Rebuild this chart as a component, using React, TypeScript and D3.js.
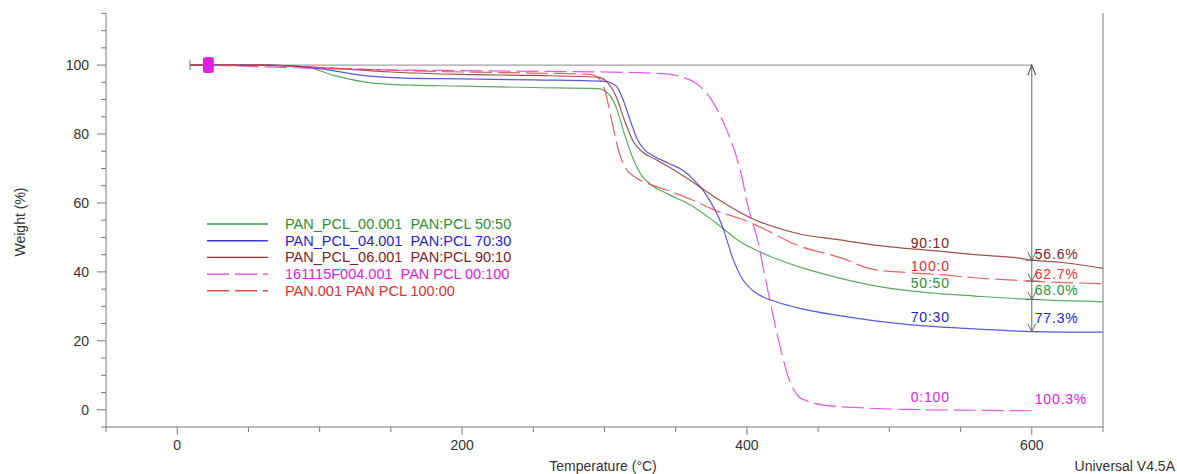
import React from 'react';
import * as d3 from 'd3';

// TGA curves (temperature °C, weight %)
const t5050 = [9, 60, 90, 110, 130, 150, 200, 250, 295, 302, 308, 314, 320, 326, 332, 345, 360, 379, 395, 407, 420, 442, 465, 488, 510, 535, 560, 600, 650];
const w5050 = [100, 100, 99.5, 97, 95.2, 94.4, 93.9, 93.5, 93.2, 92, 88, 80, 73, 68, 65.5, 62.5, 59.5, 54, 48.8, 46.2, 43.9, 40.8, 38.2, 36.1, 34.7, 33.7, 33, 32, 31.3];

const t7030 = [9, 60, 100, 130, 160, 200, 250, 300, 308, 313, 318, 323, 328, 335, 345, 355, 362, 372, 383, 390, 397, 404, 411, 420, 437, 465, 490, 512, 550, 600, 650];
const w7030 = [100, 100, 99, 97, 96.2, 96, 95.7, 95.3, 94, 90, 84, 78.5, 75.5, 73.5, 71.5, 69.5, 67, 62, 53, 44, 37.8, 34.6, 32.8, 31.4, 29.4, 27.3, 25.8, 24.8, 23.7, 22.7, 22.5];

const t9010 = [9, 60, 100, 150, 200, 250, 295, 302, 308, 314, 320, 326, 335, 345, 360, 380, 402, 437, 465, 493, 512, 535, 560, 591, 600, 620, 650];
const w9010 = [100, 100, 99.3, 98, 97.3, 97, 96.5, 95, 91, 84, 78, 75, 72.8, 70.5, 66.6, 61, 55.8, 51, 49.3, 47.6, 46.8, 46, 45, 44, 43.4, 42.8, 41];

const t0100 = [22, 60, 100, 150, 200, 250, 300, 340, 355, 365, 375, 385, 395, 402, 407, 413, 418, 424, 430, 436, 442, 455, 479, 510, 550, 603];
const w0100 = [100, 99.5, 99, 98.6, 98.4, 98.2, 98, 97.5, 96.5, 94.5, 90, 82, 70, 57, 50, 38, 28, 17, 8.4, 4, 2.6, 1.3, 0.6, 0.1, -0.1, -0.3];

const t1000 = [9, 60, 100, 150, 200, 250, 290, 295, 300, 305, 310, 315, 322, 330, 344, 362, 380, 395, 404, 437, 465, 488, 512, 535, 560, 591, 600, 650];
const w1000 = [100, 100, 99.3, 98.5, 98, 97.7, 97.3, 96.5, 93, 84, 75, 70, 67.3, 65.7, 63.7, 60.8, 57.5, 55.5, 54, 47.5, 44.2, 40.8, 39.8, 39.2, 38.3, 37.5, 37.3, 36.6];

const fileNames = ['PAN_PCL_00.001', 'PAN_PCL_04.001', 'PAN_PCL_06.001', '161115F004.001', 'PAN.001'];
const sampleNames = ['PAN:PCL 50:50', 'PAN:PCL 70:30', 'PAN:PCL 90:10', 'PAN PCL 00:100', 'PAN PCL 100:00'];
const ratioLabels = ['50:50', '70:30', '90:10', '0:100', '100:0'];
const residueAt600 = [32.0, 22.7, 43.4, -0.3, 37.3];
const lossLabels = ['68.0%', '77.3%', '56.6%', '100.3%', '62.7%'];

const xTicks = [0, 200, 400, 600];
const yTicks = [0, 20, 40, 60, 80, 100];

const colors = ['#3f9a46', '#3b3bdc', '#8a3434', '#e23be2', '#e64848'];
const textColors = ['#2f8f36', '#2424d0', '#7a2424', '#e020e0', '#e23030'];
const dashes = [null, null, null, '22,6', '22,6'];

const series = [
  { t: t5050, w: w5050 },
  { t: t7030, w: w7030 },
  { t: t9010, w: w9010 },
  { t: t0100, w: w0100 },
  { t: t1000, w: w1000 },
].map((s, i) => ({
  points: s.t.map((t, j) => [t, s.w[j]] as [number, number]),
  color: colors[i],
  textColor: textColors[i],
  dash: dashes[i],
  file: fileNames[i],
  sample: sampleNames[i],
  ratio: ratioLabels[i],
  residue: residueAt600[i],
  loss: lossLabels[i],
}));

// label anchors (weight % at which each ratio / loss label sits)
const ratioLabelW = [36.8, 26.8, 48.5, 3.6, 41.6];
const lossLabelW = [34.6, 26.5, 45.3, 3.0, 39.3];

const FONT = '"Liberation Sans", Arial, sans-serif';

export default function App() {
  const x = d3.scaleLinear().domain([-50, 650]).range([106, 1103]);
  const y = d3.scaleLinear().domain([-5, 115]).range([427, 13.4]);

  const line = d3
    .line<[number, number]>()
    .x((d) => x(d[0]))
    .y((d) => y(d[1]))
    .curve(d3.curveMonotoneX);

  const xMinor = d3.range(-50, 651, 50).filter((v) => !xTicks.includes(v));
  const yMinor = d3.range(-5, 116, 5).filter((v) => !yTicks.includes(v));

  const axisColor = '#7a7a7a';
  const x600 = x(600);
  const arrowSeries = series.filter((s) => s.residue > 0);
  const lowest = d3.min(arrowSeries, (s) => s.residue) as number;

  const legendY0 = 224;
  const legendStep = 16.7;

  return (
    <svg
      width={1177}
      height={474}
      style={{ position: 'absolute', left: 0, top: 0, background: '#fff' }}
      fontFamily={FONT}
    >
      {/* axes frame */}
      <line x1={106} y1={13} x2={106} y2={427} stroke={axisColor} />
      <line x1={106} y1={427} x2={1103} y2={427} stroke={axisColor} />
      <line x1={1103} y1={13} x2={1103} y2={427} stroke={axisColor} />

      {yTicks.map((v) => (
        <g key={'yt' + v}>
          <line x1={97} x2={106} y1={y(v)} y2={y(v)} stroke={axisColor} />
          <text x={89} y={y(v)} dy="0.35em" textAnchor="end" fontSize={14} fill="#333">
            {v}
          </text>
        </g>
      ))}
      {yMinor.map((v) => (
        <line key={'ym' + v} x1={101} x2={106} y1={y(v)} y2={y(v)} stroke={axisColor} />
      ))}
      {xTicks.map((v) => (
        <g key={'xt' + v}>
          <line x1={x(v)} x2={x(v)} y1={427} y2={435} stroke={axisColor} />
          <text x={x(v)} y={445} dy="0.35em" textAnchor="middle" fontSize={14} fill="#333">
            {v}
          </text>
        </g>
      ))}
      {xMinor.map((v) => (
        <line key={'xm' + v} x1={x(v)} x2={x(v)} y1={427} y2={432} stroke={axisColor} />
      ))}

      <text
        transform={`translate(20,222) rotate(-90)`}
        textAnchor="middle"
        dy="0.35em"
        fontSize={14}
        fill="#333"
      >
        Weight (%)
      </text>
      <text x={603} y={466} dy="0.35em" textAnchor="middle" fontSize={14} fill="#333">
        Temperature (°C)
      </text>
      <text x={1175} y={466} dy="0.35em" textAnchor="end" fontSize={14} fill="#333">
        Universal V4.5A
      </text>

      {/* 100 % reference and weight-loss arrow at 600 °C */}
      <line x1={x(9)} x2={x600} y1={y(100)} y2={y(100)} stroke="#8a8a8a" />
      <line x1={x600} x2={x600} y1={y(100)} y2={y(lowest)} stroke="#666" />
      <path
        d={`M${x600 - 4},${y(100) + 10} L${x600},${y(100)} L${x600 + 4},${y(100) + 10}`}
        fill="none"
        stroke="#555"
        strokeWidth={1.2}
      />

      {/* curves */}
      {series.map((s, i) => (
        <path
          key={'c' + i}
          d={line(s.points) || ''}
          fill="none"
          stroke={s.color}
          strokeWidth={1.2}
          strokeOpacity={0.85}
          strokeDasharray={s.dash || undefined}
        />
      ))}

      {arrowSeries.map((s, i) => (
        <g key={'a' + i} stroke="#666" fill="none">
          <line x1={x600 - 6} x2={x600 + 8} y1={y(s.residue)} y2={y(s.residue)} />
          <path
            d={`M${x600 - 4},${y(s.residue) - 8} L${x600},${y(s.residue)} L${x600 + 4},${y(s.residue) - 8}`}
          />
        </g>
      ))}

      {/* start marker */}
      <line x1={x(9)} x2={x(9)} y1={y(100) - 5} y2={y(100) + 5} stroke="#5a7a5a" />
      <rect x={x(18)} y={y(100) - 8} width={11} height={16} rx={3} fill="#e020e0" />

      {/* ratio and loss labels */}
      {series.map((s, i) => (
        <g key={'l' + i} fontSize={14} letterSpacing={0.8} fill={s.textColor}>
          <text x={x(515)} y={y(ratioLabelW[i])} dy="0.35em">
            {s.ratio}
          </text>
          <text x={x600 + 3} y={y(lossLabelW[i])} dy="0.35em">
            {s.loss}
          </text>
        </g>
      ))}

      {/* legend */}
      {series.map((s, i) => (
        <g key={'lg' + i} transform={`translate(0,${legendY0 + i * legendStep})`}>
          <line
            x1={207}
            x2={268}
            y1={0}
            y2={0}
            stroke={s.color}
            strokeWidth={1.4}
            strokeDasharray={s.dash || undefined}
          />
          <text x={285} y={0} dy="0.35em" fontSize={14.5} fill={s.textColor} style={{ whiteSpace: 'pre' }}>
            {s.file + (i === 4 ? ' ' : '  ') + s.sample}
          </text>
        </g>
      ))}
    </svg>
  );
}
